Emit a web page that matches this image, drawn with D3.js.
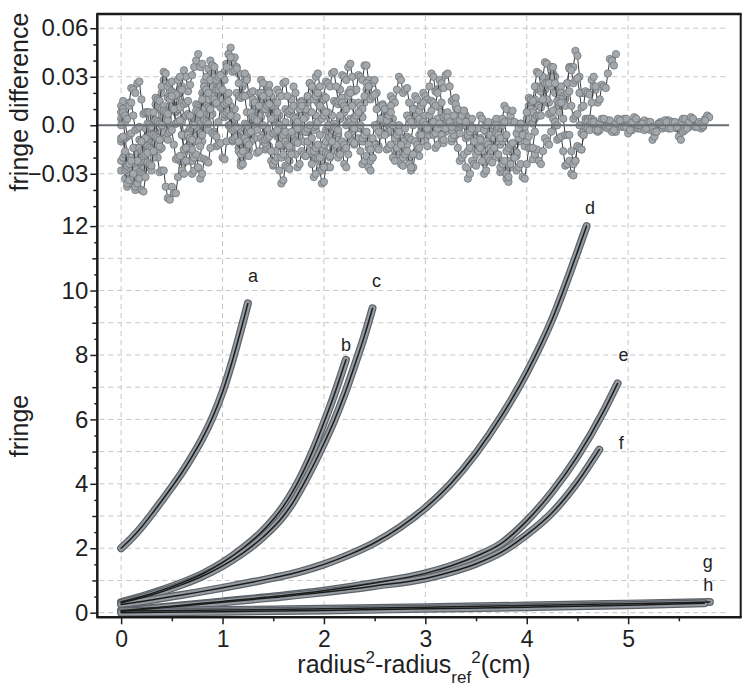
<!DOCTYPE html>
<html><head><meta charset="utf-8">
<script src="https://cdn.jsdelivr.net/npm/d3@7"></script>
<style>
body{margin:0;background:#fff}
svg text{font-family:"Liberation Sans",Arial,Helvetica,sans-serif;fill:#1f1f1f}
</style>
</head><body>
<svg id="c" width="750" height="690"></svg>
<script>
// ---------------- DATA ----------------
const curveNames = ["a","b","c","d","e","f","g","h"];

// fringe curves (x = radius^2 - radius_ref^2, y = fringe)
const aX = [0,0.1,0.2,0.3,0.4,0.5,0.6,0.7,0.8,0.9,1.0,1.1,1.2,1.25];
const aY = [2.0,2.3,2.65,3.05,3.47,3.9,4.35,4.85,5.4,6.05,6.85,7.85,9.0,9.6];
const bX = [0,0.2,0.4,0.6,0.8,1.0,1.2,1.4,1.6,1.7,1.8,1.9,2.0,2.1,2.217];
const bY = [0.33,0.5,0.7,0.93,1.2,1.55,2.0,2.55,3.3,3.8,4.4,5.1,5.9,6.75,7.85];
const cX = [0,0.2,0.4,0.6,0.8,1.0,1.2,1.4,1.6,1.7,1.8,1.9,2.0,2.1,2.2,2.3,2.4,2.479];
const cY = [0.3,0.46,0.65,0.87,1.13,1.45,1.85,2.35,3.0,3.45,4.0,4.6,5.25,5.95,6.75,7.65,8.6,9.45];
const dX = [0,0.25,0.5,0.75,1.0,1.25,1.5,1.75,2.0,2.25,2.5,2.75,3.0,3.25,3.5,3.75,4.0,4.25,4.5,4.59];
const dY = [0.25,0.37,0.5,0.63,0.77,0.92,1.08,1.26,1.5,1.8,2.17,2.65,3.25,4.0,4.95,6.1,7.45,9.1,11.2,12.0];
const eX = [0,0.5,1.0,1.5,2.0,2.5,3.0,3.25,3.5,3.75,4.0,4.25,4.5,4.75,4.896];
const eY = [0.06,0.2,0.35,0.5,0.68,0.92,1.22,1.45,1.75,2.15,2.85,3.75,4.85,6.2,7.12];
const fX = [0,0.5,1.0,1.5,2.0,2.5,3.0,3.25,3.5,3.75,4.0,4.25,4.5,4.715];
const fY = [0.04,0.18,0.32,0.47,0.63,0.83,1.06,1.26,1.52,1.88,2.42,3.1,4.05,5.06];
const gX = [0,1.0,2.0,3.0,4.0,5.0,5.806];
const gY = [0.05,0.08,0.12,0.17,0.22,0.28,0.33];
const hX = [0,1.0,2.0,3.0,4.0,5.0,5.75];
const hY = [0.0,0.03,0.07,0.12,0.17,0.23,0.29];

// fringe differences (residuals, in units of 0.001), sampled every resStep along x from 0
const resStep = 0.02;
const resA = [-28,-22,-33,-38,-36,-30,-25,-14,-18,-26,-22,-16,-12,-3,-6,-15,-10,-4,2,10,
  6,1,-2,4,10,14,18,8,12,20,24,34,30,21,25,31,36,40,44,36,
  38,27,30,35,40,37,33,26,22,16,28,33,38,44,48,39,42,36,32,20,
  24,29,30];
const resB = [12,15,6,5,14,23,22,20,26,27,16,7,8,8,-2,-11,-12,-10,-20,-29,
  -28,-28,-38,-45,-46,-38,-42,-42,-32,-22,-22,-23,-14,-4,-6,-6,4,13,12,11,
  20,24,16,7,8,7,-4,-13,-12,-11,-20,-21,-10,0,0,0,10,20,18,17,
  26,32,28,19,20,21,12,3,4,5,-6,-15,-14,-13,-22,-25,-16,-7,-8,-9,
  0,10,8,7,16,24,20,12,14,15,6,-4,-4,-3,-12,-21,-20,-18,-28,-36,
  -35,-25,-26,-26,-16,-5,-6,-6,4,13,12];
const resC = [4,3,-8,-19,-20,-20,-30,-38,-36,-27,-28,-27,-16,-6,-6,-6,4,13,12,11,
  20,28,26,17,18,19,10,1,2,3,-6,-15,-14,-13,-22,-30,-28,-19,-20,-20,
  -10,-1,-2,-3,6,15,14,13,22,31,30,28,36,44,42,33,34,35,26,17,
  18,18,8,-1,0,1,-8,-17,-16,-8,-10,-11,-2,7,6,5,14,22,20,18,
  26,27,18,9,10,12,4,-5,-4,-2,-10,-19,-18,-16,-24,-32,-30,-21,-22,-22,
  -12,-3,-4,-4,6,15,14,13,22,31,30,28,36,38,30,21,22,31,30,28,
  37,37,28,18,18];
const resD = [-22,-20,-28,-36,-34,-25,-26,-27,-18,-9,-10,-11,-2,8,8,0,2,3,-6,-15,
  -14,-6,-8,-9,0,10,10,10,20,22,14,5,6,7,-2,-11,-10,-2,-4,-5,
  4,13,12,11,20,28,26,19,22,23,14,5,6,7,-2,-10,-8,-6,-14,-22,
  -20,-12,-14,-15,-6,3,2,1,10,18,16,14,22,25,18,10,12,14,6,-2,
  0,2,-6,-14,-12,-10,-18,-26,-24,-16,-18,-19,-10,-1,-2,-3,6,14,12,10,
  18,27,26,24,32,33,24,15,16,17,8,0,2,4,-4,-12,-10,-8,-16,-24,
  -22,-19,-26,-28,-20,-11,-12,-13,-4,5,4,2,10,18,16,14,22,30,28,20,
  22,23,14,6,8,10,2,-6,-4,-2,-10,-13,-6,2,0,-3,4,11,8,1,
  4,6,-2,-10,-8,-6,-14,-22,-20,-18,-26,-33,-30,-22,-24,-25,-16,-8,-10,-12,
  -4,-1,-8,-16,-14,-12,-20,-29,-28,-25,-33,-35,-26,-17,-18,-19,-10,-2,-4,-6,
  2,10,8,1,4,13,12,11,20,22,14,14,24,32,30,21,22,24,16,16,
  26,36,36,36,46,43,30,20,20];
const resE = [8,10,2,-7,-6,-5,-14,-23,-22,-14,-16,-17,-8,1,0,-1,8,17,16,15,
  24,33,32,24,26,27,18,9,10,11,2,-7,-6,-5,-14,-22,-20,-18,-26,-33,
  -30,-21,-22,-23,-14,-5,-6,-7,2,11,10,9,18,20,12,3,4,5,-4,-12,
  -10,-2,-4,-5,4,13,12,11,20,28,26,18,20,21,12,3,4,5,-4,-13,
  -12,-11,-20,-22,-14,-5,-6,-7,2,11,10,9,18,26,24,22,30,32,24,15,
  16,17,8,-1,0,1,-8,-17,-16,-15,-24,-26,-18,-9,-10,-11,-2,7,6,5,
  14,22,20,18,26,28,20,11,12,13,4,-5,-4,-3,-12,-20,-18,-16,-24,-25,
  -16,-7,-8,-9,0,8,6,4,12,20,18,16,24,32,30,21,22,23,14,5,
  6,8,0,-8,-6,1,-2,-5,2,9,6,-1,2,4,-4,-12,-10,-8,-16,-18,
  -10,-2,-4,-6,2,4,-4,-12,-10,-8,-16,-24,-22,-14,-16,-17,-8,0,-2,-4,
  4,12,10,8,16,24,22,21,30,39,38,29,30,30,20,11,12,20,18,17,
  26,35,34,26,28,29,20,11,12,21,20,19,28,30,22,14,16,25,24,23,
  32,41,40,37,44];
const resF = [-10,-9,-18,-27,-26,-24,-32,-40,-38,-29,-30,-31,-22,-13,-14,-15,-6,3,2,1,
  10,12,4,-5,-4,-3,-12,-21,-20,-19,-28,-30,-22,-13,-14,-15,-6,3,2,1,
  10,19,18,16,24,32,30,22,24,25,16,7,8,9,0,-9,-8,-6,-14,-16,
  -8,1,0,-1,8,16,14,6,8,9,0,-9,-8,-7,-16,-24,-22,-20,-28,-36,
  -34,-25,-26,-27,-18,-9,-10,-11,-2,7,6,5,14,16,8,-1,0,2,-6,-14,
  -12,-10,-18,-20,-12,-3,-4,-5,4,13,12,11,20,22,14,5,6,7,-2,-10,
  -8,-6,-14,-22,-20,-12,-14,-15,-6,3,2,1,10,12,4,-4,-2,0,-8,-16,
  -14,-12,-20,-28,-26,-17,-18,-19,-10,-1,-2,-3,6,15,14,12,20,28,26,23,
  31,32,24,15,16,17,8,-1,0,1,-8,-16,-14,-6,-8,-10,-2,6,4,-3,
  0,2,-6,-14,-12,-10,-18,-26,-24,-22,-30,-32,-24,-15,-16,-17,-8,1,0,-1,
  8,17,16,15,24,33,32,23,24,25,16,7,8,9,0,-9,-8,-7,-16,-25,
  -24,-22,-30,-31,-22,-13,-14,-15,-6,4,4,4,14,24,24];
const resG = [0,8,6,4,12,14,6,-3,-2,-1,-10,-19,-18,-17,-26,-28,-20,-11,-12,-13,
  -4,5,4,3,12,21,20,19,28,30,22,13,14,15,6,-3,-2,-1,-10,-13,
  -6,3,2,1,10,18,16,14,22,24,16,7,8,9,0,-9,-8,-7,-16,-25,
  -24,-16,-18,-19,-10,-1,-2,-3,6,14,12,10,18,20,12,4,6,8,0,-8,
  -6,-4,-12,-14,-6,2,0,-2,6,14,12,10,18,26,24,16,18,20,12,4,
  6,8,0,-8,-6,-4,-12,-20,-18,-10,-12,-14,-6,2,0,-2,6,14,12,10,
  18,26,24,16,18,19,10,1,2,3,-6,-15,-14,-12,-20,-22,-14,-6,-8,-10,
  -2,6,4,2,10,18,16,9,12,14,6,-2,0,2,-6,-14,-12,-5,-8,-11,
  -4,3,0,-3,4,11,8,1,4,7,0,-7,-4,-1,-8,-15,-12,-9,-16,-23,
  -20,-12,-14,-16,-8,0,-2,-4,4,12,10,3,6,9,2,-5,-2,1,-6,-13,
  -10,-7,-14,-21,-18,-15,-22,-24,-16,-8,-10,-12,-4,4,2,0,8,16,14,12,
  20,21,12,4,6,7,0,-5,-4,2,2,0,4,3,-2,-4,-3,1,1,0,
  3,3,-1,-4,-4,1,2,1,4,4,0,-3,-3,1,1,-2,-2,2,3,-1,
  -1,-3,-9,-7,-4,1,2,-2,-1,3,3,-1,0,1,-2,-2,2,4,4,-1,
  -1,3,3,0,1,1,-2,-1,4,6,5];
const resH = [-8,-7,-16,-25,-24,-22,-30,-38,-36,-33,-40,-41,-32,-23,-24,-25,-16,-7,-8,-9,
  0,9,8,7,16,18,10,1,2,3,-6,-15,-14,-6,-8,-9,0,9,8,7,
  16,24,22,20,28,37,36,28,30,31,22,13,14,15,6,-3,-2,-1,-10,-18,
  -16,-8,-10,-12,-4,5,4,3,12,20,18,10,12,13,4,-5,-4,-3,-12,-20,
  -18,-10,-12,-13,-4,5,4,2,10,12,4,-4,-2,0,-8,-16,-14,-12,-20,-28,
  -26,-17,-18,-19,-10,-1,-2,-3,6,14,12,10,18,20,12,4,6,8,0,-8,
  -6,-4,-12,-15,-8,0,-2,-4,4,12,10,3,6,8,0,-8,-6,-4,-12,-20,
  -18,-16,-24,-26,-18,-10,-12,-14,-6,2,0,-2,6,9,2,-5,-2,1,-6,-9,
  -2,5,2,-1,6,13,10,3,6,9,2,-6,-4,-2,-10,-18,-16,-14,-22,-30,
  -28,-20,-22,-23,-14,-5,-6,-8,0,2,-6,-14,-12,-11,-20,-28,-26,-24,-32,-33,
  -24,-14,-14,-14,-4,6,6,6,16,26,26,26,36,36,26,15,14,14,4,-6,
  -6,-6,-16,-24,-22,-13,-14,-15,-6,-1,-2,-3,2,2,-3,-3,1,4,4,-1,
  -2,-1,-4,-3,1,4,3,-1,-1,-1,-5,-3,2,5,4,0,0,1,-3,-2,
  2,2,-1,-4,-4,1,1,0,3,2,-2,-2,2,2,-1,-7,-9,-4,-3,-2,
  2,5,4,-1,-1,2,1,0,3];

// ticks
const xTicks = [0,1,2,3,4,5];
const xMinorTicks = [0.5,1.5,2.5,3.5,4.5,5.5];
const topTicks = [-0.03,0,0.03,0.06];
const topMinorTicks = [-0.05,-0.04,-0.02,-0.01,0.01,0.02,0.04,0.05];
const topGrid = [-0.03,0.03,0.06];
const botTicks = [0,2,4,6,8,10,12];
const botOddTicks = [1,3,5,7,9,11];
const botHalfTicks = [0.5,1.5,2.5,3.5,4.5,5.5,6.5,7.5,8.5,9.5,10.5,11.5];
const botGrid = [0,1,2,3,4,5,6,7,8,9,10,11,12];

// ---------------- LAYOUT / STYLE ----------------
const X0 = 97.3, X1 = 740.7, XG = 729, YT = 14, YM = 210, YB = 617.3;
const labelOffsets = {a:[5,-21],b:[0,-9],c:[4,-21],d:[3.5,-12],e:[6,-22],f:[22,-1],g:[-2,-34.5],h:[4,-12]};

const svg = d3.select("#c");
const x = d3.scaleLinear().domain([-0.235, 6.11]).range([X0, X1]);
const yTop = d3.scaleLinear().domain([-0.0524, 0.0688]).range([YM, YT]);
const yBot = d3.scaleLinear().domain([-0.144, 12.5]).range([YB, YM]);

// grid
const grid = svg.append("g").attr("stroke","#c6c6c6").attr("stroke-width",1).attr("stroke-dasharray","5,4").attr("fill","none");
grid.selectAll(".vg").data(xTicks).join("line")
  .attr("x1",d=>x(d)).attr("x2",d=>x(d)).attr("y1",YT+2).attr("y2",YB-1);
grid.selectAll(".tg").data(topGrid).join("line")
  .attr("x1",X0+2).attr("x2",XG).attr("y1",d=>yTop(d)).attr("y2",d=>yTop(d));
grid.selectAll(".bg").data(botGrid).join("line")
  .attr("x1",X0+2).attr("x2",XG).attr("y1",d=>yBot(d)).attr("y2",d=>yBot(d));

// bottom panel curves
const curveX = [aX,bX,cX,dX,eX,fX,gX,hX];
const curveY = [aY,bY,cY,dY,eY,fY,gY,hY];
const curves = curveNames.map((n,i)=>({name:n, pts: curveX[i].map((xv,j)=>[xv, curveY[i][j]])}));
const cline = d3.line().x(d=>x(d[0])).y(d=>yBot(d[1])).curve(d3.curveMonotoneX);
const cg = svg.append("g").attr("fill","none").attr("stroke-linecap","round").attr("stroke-linejoin","round");
curves.forEach(c=>{
  cg.append("path").attr("d",cline(c.pts)).attr("stroke","#5c6267").attr("stroke-width",8);
  cg.append("path").attr("d",cline(c.pts)).attr("stroke","#959ba0").attr("stroke-width",5.6);
});
curves.forEach(c=>{
  cg.append("path").attr("d",cline(c.pts)).attr("stroke","#1c1c1c").attr("stroke-width",1.5);
});

// curve labels
svg.append("g").selectAll("text").data(curves).join("text")
  .attr("x",d=>x(d.pts[d.pts.length-1][0]) + labelOffsets[d.name][0])
  .attr("y",d=>yBot(d.pts[d.pts.length-1][1]) + labelOffsets[d.name][1])
  .attr("text-anchor","middle").attr("font-size",18).text(d=>d.name);

// top panel residuals
const resAll = [resA,resB,resC,resD,resE,resF,resG,resH];
const rline = d3.line().x(d=>x(d[0])).y(d=>yTop(d[1]));
const rg = svg.append("g");
resAll.forEach(arr=>{
  const pts = arr.map((v,i)=>[i*resStep, v/1000]);
  rg.append("path").attr("d",rline(pts)).attr("fill","none").attr("stroke","#3a3a3a").attr("stroke-width",1);
  rg.append("g").selectAll("circle").data(pts).join("circle")
    .attr("cx",d=>x(d[0])).attr("cy",d=>yTop(d[1])).attr("r",3.7)
    .attr("fill","#a3a8ac").attr("stroke","#6b7074").attr("stroke-width",0.7);
});
// zero line
svg.append("line").attr("x1",X0).attr("x2",XG).attr("y1",yTop(0)).attr("y2",yTop(0))
  .attr("stroke","#676d72").attr("stroke-width",2);

// axes
function styleAxis(g, fs){
  g.select(".domain").remove();
  g.selectAll(".tick line").attr("stroke","#1f1f1f").attr("stroke-width",1.5);
  g.selectAll(".tick text").attr("font-size",fs).attr("fill","#1f1f1f")
   .style("font-family",'"Liberation Sans",Arial,Helvetica,sans-serif');
}
const fmtTop = d => d===0 ? "0.0" : d3.format(".2f")(d);
const axTop = svg.append("g").attr("transform",`translate(${X0},0)`)
  .call(d3.axisLeft(yTop).tickValues(topTicks).tickSize(7).tickPadding(2).tickFormat(fmtTop));
styleAxis(axTop, 24);
// align "0.0" on the decimal point like the other labels
(function(){
  let w06=0, w00=0, t00=null;
  axTop.selectAll(".tick text").each(function(d){
    if(d===0.06) w06=this.getComputedTextLength();
    if(d===0){ w00=this.getComputedTextLength(); t00=this; }
  });
  if(t00){ const x0 = +d3.select(t00).attr("x"); d3.select(t00).attr("x", x0 - w06 + w00); }
})();
const axTopMinor = svg.append("g").attr("transform",`translate(${X0},0)`)
  .call(d3.axisLeft(yTop).tickValues(topMinorTicks).tickSize(4).tickFormat(""));
styleAxis(axTopMinor, 1);

const axBot = svg.append("g").attr("transform",`translate(${X0},0)`)
  .call(d3.axisLeft(yBot).tickValues(botTicks).tickSize(7).tickPadding(2).tickFormat(d3.format("d")));
styleAxis(axBot, 24);
const axBotOdd = svg.append("g").attr("transform",`translate(${X0},0)`)
  .call(d3.axisLeft(yBot).tickValues(botOddTicks).tickSize(5).tickFormat(""));
styleAxis(axBotOdd, 1);
const axBotHalf = svg.append("g").attr("transform",`translate(${X0},0)`)
  .call(d3.axisLeft(yBot).tickValues(botHalfTicks).tickSize(3).tickFormat(""));
styleAxis(axBotHalf, 1);

const axX = svg.append("g").attr("transform",`translate(0,${YB})`)
  .call(d3.axisBottom(x).tickValues(xTicks).tickSize(7).tickPadding(6).tickFormat(d3.format("d")));
styleAxis(axX, 23);
const axXMinor = svg.append("g").attr("transform",`translate(0,${YB})`)
  .call(d3.axisBottom(x).tickValues(xMinorTicks).tickSize(4).tickFormat(""));
styleAxis(axXMinor, 1);

// frame
const fr = svg.append("g").attr("stroke","#1a1a1a").attr("fill","none");
fr.append("line").attr("x1",X0-1).attr("x2",X1+1).attr("y1",YT).attr("y2",YT).attr("stroke-width",2.5);
fr.append("line").attr("x1",X0-1).attr("x2",X1+1).attr("y1",YB).attr("y2",YB).attr("stroke-width",2.5);
fr.append("line").attr("x1",X0).attr("x2",X0).attr("y1",YT).attr("y2",YB).attr("stroke-width",2.5);
fr.append("line").attr("x1",X1).attr("x2",X1).attr("y1",YT).attr("y2",YB).attr("stroke-width",2);

// axis titles
svg.append("text").attr("transform",`translate(28,${(YT+YM)/2 - 10}) rotate(-90)`)
  .attr("text-anchor","middle").attr("font-size",25).text("fringe difference");
svg.append("text").attr("transform",`translate(28,426) rotate(-90)`)
  .attr("text-anchor","middle").attr("font-size",25).text("fringe");
const xt = svg.append("text").attr("x",414).attr("y",673).attr("text-anchor","middle").attr("font-size",25);
xt.append("tspan").text("radius");
xt.append("tspan").attr("font-size",17).attr("dy",-10).text("2");
xt.append("tspan").attr("dy",10).text("-radius");
xt.append("tspan").attr("font-size",17).attr("dy",10).text("ref");
xt.append("tspan").attr("font-size",17).attr("dy",-20).text("2");
xt.append("tspan").attr("dy",10).text("(cm)");
</script>
</body></html>
